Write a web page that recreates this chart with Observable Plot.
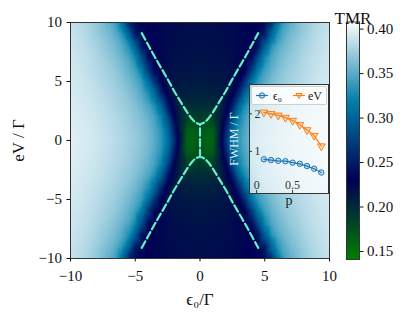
<!DOCTYPE html>
<html><head><meta charset="utf-8">
<script src="https://cdn.jsdelivr.net/npm/d3@7"></script>
<script src="https://cdn.jsdelivr.net/npm/@observablehq/plot@0.6"></script>
<style>
body{margin:0;background:#fff;}
#wrap{position:relative;width:415px;height:312px;font-family:'Liberation Serif','DejaVu Serif',serif;}
#wrap > *{position:absolute;}
</style></head><body><div id="wrap"></div>
<script>
// ---- heatmap (one quadrant, field is mirror-symmetric in both axes) ----
const gridX = [0, 0.5, 1, 1.5, 2, 2.5, 3, 3.5, 4, 4.5, 5, 5.5, 6, 6.5, 7, 8, 9, 10];
const gridY = [0, 1, 2, 3, 4, 5, 6, 7, 8, 9, 10];
const tmrRows = [
  [0.175,0.158,0.160,0.215,0.265,0.312,0.336,0.350,0.360,0.367,0.372,0.376,0.380,0.383,0.386,0.391,0.395,0.397],
  [0.180,0.165,0.168,0.205,0.252,0.302,0.332,0.347,0.358,0.365,0.370,0.375,0.379,0.382,0.385,0.390,0.394,0.397],
  [0.190,0.185,0.188,0.205,0.232,0.282,0.322,0.342,0.354,0.362,0.368,0.373,0.377,0.381,0.384,0.389,0.393,0.396],
  [0.200,0.200,0.200,0.205,0.220,0.248,0.298,0.328,0.345,0.356,0.364,0.370,0.374,0.378,0.382,0.388,0.392,0.395],
  [0.207,0.207,0.208,0.210,0.215,0.225,0.258,0.303,0.331,0.347,0.358,0.365,0.371,0.376,0.380,0.386,0.391,0.394],
  [0.212,0.212,0.213,0.214,0.216,0.220,0.230,0.265,0.310,0.337,0.350,0.360,0.367,0.373,0.377,0.384,0.390,0.393],
  [0.215,0.215,0.216,0.217,0.218,0.220,0.224,0.232,0.270,0.315,0.340,0.353,0.362,0.369,0.374,0.382,0.388,0.392],
  [0.217,0.217,0.218,0.219,0.220,0.222,0.225,0.228,0.240,0.285,0.325,0.345,0.356,0.364,0.370,0.380,0.387,0.391],
  [0.219,0.219,0.220,0.220,0.221,0.222,0.224,0.226,0.230,0.245,0.295,0.330,0.348,0.358,0.365,0.377,0.385,0.390],
  [0.220,0.220,0.221,0.221,0.222,0.223,0.225,0.227,0.230,0.236,0.250,0.300,0.333,0.350,0.360,0.373,0.383,0.389],
  [0.221,0.221,0.222,0.222,0.223,0.224,0.226,0.228,0.230,0.233,0.238,0.260,0.310,0.340,0.353,0.370,0.381,0.388]
];
// ---- dashed resonance curves ----
const curveX = [-4.5,-4,-3.5,-3,-2.5,-2,-1.5,-1,-0.6,-0.3,0,0.3,0.6,1,1.5,2,2.5,3,3.5,4,4.5];
const upperY = [9.1,8.1,7.1,6.15,5.2,4.2,3.3,2.4,1.8,1.5,1.4,1.5,1.8,2.4,3.3,4.2,5.2,6.15,7.1,8.1,9.1];
const lowerY = [-9.1,-8.1,-7.1,-6.15,-5.2,-4.2,-3.3,-2.4,-1.8,-1.5,-1.4,-1.5,-1.8,-2.4,-3.3,-4.2,-5.2,-6.15,-7.1,-8.1,-9.1];
const stemX = [0, 0];
const stemY = [-1.4, 1.4];
// ---- axes ----
const xDomain = [-10, 10], yDomain = [-10, 10];
const xTicks = [-10, -5, 0, 5, 10];
const yTicks = [-10, -5, 0, 5, 10];
const xLabel = "ϵ₀/Γ", yLabel = "eV / Γ";
const tmrDomain = [0.141, 0.408];
const tmrTicks = [0.15, 0.20, 0.25, 0.30, 0.35, 0.40];
// ---- inset ----
const pValues = [0.1,0.2,0.3,0.4,0.5,0.6,0.7,0.8,0.9];
const fwhmEps = [0.79,0.77,0.75,0.74,0.70,0.67,0.61,0.54,0.44];
const fwhmEV  = [2.04,2.00,1.96,1.90,1.82,1.71,1.57,1.42,1.14];
const insetXDomain = [-0.1, 1.0], insetYDomain = [-0.12, 2.78];
const insetXTicks = [0, 0.5], insetYTicks = [1, 2];
const insetYLabel = "FWHM / Γ", insetXLabel = "p";
const seriesNames = ["ϵ₀", "eV"];

const FONT = "'Liberation Serif','DejaVu Serif',serif";
const BLUE = "#1f77b4", ORANGE = "#ff7f0e", CURVE = "#66f0c4";

function ocean(t){
  const c = v => Math.round(255*Math.max(0, Math.min(1, v)));
  return `rgb(${c(3*t-2)},${c(Math.abs((3*t-1)/2))},${c(t)})`;
}
const colorOpts = {type:"linear", domain: tmrDomain, interpolate: ocean, clamp: true};

const field = [];
gridY.forEach((y, i) => gridX.forEach((x, j) => {
  const v = tmrRows[i][j];
  for (const sx of (x === 0 ? [1] : [1, -1]))
    for (const sy of (y === 0 ? [1] : [1, -1]))
      field.push({x: sx*x, y: sy*y, v});
}));
const upper = curveX.map((x, i) => ({x, y: upperY[i]}));
const lower = curveX.map((x, i) => ({x, y: lowerY[i]}));
const stem = stemX.map((x, i) => ({x, y: stemY[i]}));
const dash = {x:"x", y:"y", stroke: CURVE, strokeWidth: 2.2, strokeDasharray: "7.4,3.2", curve: "catmull-rom"};

const wrap = document.getElementById("wrap");

const main = Plot.plot({
  width: 415, height: 312, marginLeft: 70, marginRight: 86, marginTop: 22, marginBottom: 54,
  x: {domain: xDomain}, y: {domain: yDomain},
  color: colorOpts,
  style: {fontFamily: FONT, fontSize: "15px", color: "#111", background: "white"},
  marks: [
    Plot.raster(field, {x:"x", y:"y", fill:"v", interpolate:"barycentric",
      x1: xDomain[0], x2: xDomain[1], y1: yDomain[0], y2: yDomain[1], pixelSize: 1}),
    Plot.line(upper, dash),
    Plot.line(lower, dash),
    Plot.line(stem, {...dash, curve: "linear"}),
    Plot.frame({stroke: "#333", strokeWidth: 1}),
    Plot.axisX({ticks: xTicks, tickSize: 3.5, tickPadding: 8, label: null, fontSize: 15}),
    Plot.axisY({ticks: yTicks, tickSize: 3.5, tickPadding: 5, label: null, fontSize: 15}),
    Plot.text([xLabel], {text: d => d, frameAnchor: "bottom", dy: 46, fontSize: 17, fill: "#111"}),
    Plot.text([yLabel], {text: d => d, frameAnchor: "left", dx: -52, rotate: -90, textAnchor: "middle", fontSize: 17, fill: "#111"})
  ]
});
main.style.left = "0px"; main.style.top = "0px";
wrap.appendChild(main);

const cbar = Plot.plot({
  width: 85, height: 312, marginLeft: 16, marginRight: 56, marginTop: 21.5, marginBottom: 53,
  x: {domain: [0, 1], axis: null}, y: {domain: tmrDomain},
  color: colorOpts,
  style: {fontFamily: FONT, fontSize: "15px", color: "#111", background: "transparent"},
  marks: [
    Plot.raster({fill: (x, y) => y, x1: 0, x2: 1, y1: tmrDomain[0], y2: tmrDomain[1], pixelSize: 1}),
    Plot.frame({stroke: "#333", strokeWidth: 1}),
    Plot.axisY({anchor: "right", ticks: tmrTicks, tickFormat: d3.format(".2f"), tickSize: 3.5, tickPadding: 4, label: null, fontSize: 15}),
    Plot.text(["TMR"], {text: d => d, frameAnchor: "top", dy: -10, fontSize: 17, fill: "#111"})
  ]
});
cbar.style.left = "330px"; cbar.style.top = "0px";
wrap.appendChild(cbar);

const insetData = pValues.map((p, i) => ({p, eps: fwhmEps[i], ev: fwhmEV[i]}));
const inset = Plot.plot({
  width: 106, height: 134, marginLeft: 21, marginRight: 6, marginTop: 6, marginBottom: 19,
  x: {domain: insetXDomain, axis: null}, y: {domain: insetYDomain, axis: null},
  style: {fontFamily: FONT, fontSize: "12px", color: "#222", background: "transparent", overflow: "visible"},
  marks: [
    Plot.frame({fill: "white", fillOpacity: 0.72}),
    Plot.line(insetData, {x: "p", y: "eps", stroke: BLUE, strokeWidth: 1.2}),
    Plot.dot(insetData, {x: "p", y: "eps", r: 2.7, stroke: BLUE, fill: BLUE, fillOpacity: 0.2, strokeWidth: 1}),
    Plot.line(insetData, {x: "p", y: "ev", stroke: ORANGE, strokeWidth: 1.2}),
    Plot.dot(insetData, {x: "p", y: "ev", r: 2.9, symbol: "triangle", rotate: 180, stroke: ORANGE, fill: ORANGE, fillOpacity: 0.2, strokeWidth: 1}),
    Plot.tickY(insetYTicks, {y: d => d, insetRight: 76, stroke: "#333"}),
    Plot.tickX(insetXTicks, {x: d => d, insetTop: 106, stroke: "#333"}),
    Plot.text(insetYTicks, {y: d => d, text: d => String(d), frameAnchor: "left", dx: 5, textAnchor: "start", fill: "#333"}),
    Plot.text(insetXTicks, {x: d => d, text: d => String(d), frameAnchor: "bottom", dy: -5, lineAnchor: "bottom", fill: "#333"}),
    Plot.text([insetYLabel], {text: d => d, frameAnchor: "left", dx: -15, rotate: -90, textAnchor: "middle", fill: "#e2f0f5"}),
    Plot.text([insetXLabel], {text: d => d, frameAnchor: "bottom", dy: 11, fontSize: 14, fill: "#222"}),
    Plot.frame({stroke: "#333", strokeWidth: 1})
  ]
});
inset.style.left = "228px"; inset.style.top = "78px";
wrap.appendChild(inset);

// legend of the inset
const leg = document.createElement("div");
leg.style.cssText = "left:251px;top:86px;width:74px;height:17px;border:1px solid #cfcfcf;border-radius:2px;background:rgba(255,255,255,0.8);";
leg.innerHTML = `<svg width="74" height="17" style="position:absolute;left:0;top:0;font-family:${FONT.replace(/'/g,'&apos;')};font-size:12px">
  <line x1="4" x2="16" y1="8.5" y2="8.5" stroke="${BLUE}" stroke-width="1.2"/>
  <circle cx="10" cy="8.5" r="2.7" stroke="${BLUE}" fill="${BLUE}" fill-opacity="0.2"/>
  <text x="21" y="12.5" fill="#222">${seriesNames[0]}</text>
  <line x1="41" x2="53" y1="8.5" y2="8.5" stroke="${ORANGE}" stroke-width="1.2"/>
  <path d="M44,6.5 L50,6.5 L47,11.5 Z" stroke="${ORANGE}" fill="${ORANGE}" fill-opacity="0.2"/>
  <text x="56" y="12.5" fill="#222">${seriesNames[1]}</text>
</svg>`;
wrap.appendChild(leg);
</script></body></html>
